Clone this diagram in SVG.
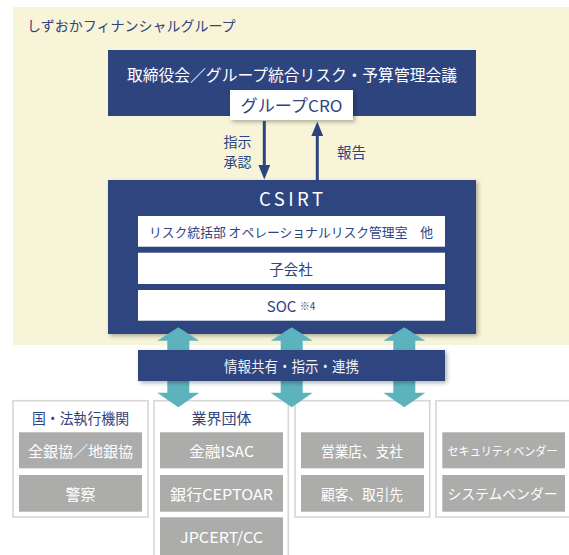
<svg xmlns="http://www.w3.org/2000/svg" width="569" height="555" viewBox="0 0 569 555">
<defs>
<style>
.jp{font-family:"Noto Sans CJK JP","Noto Sans",sans-serif;}
.navy{fill:#2e447f;}
.wt{fill:#ffffff;}
.nt{fill:#2e447f;}
.gray{fill:#acacab;}
.frame{fill:#ffffff;stroke:#d6d6d6;stroke-width:1.6;}
.teal{fill:#5cb3be;}
.line{stroke:#2e447f;stroke-width:3;fill:none;}
</style>
<filter id="sh" x="-10%" y="-10%" width="130%" height="140%">
<feDropShadow dx="2" dy="2" stdDeviation="2" flood-color="#000" flood-opacity="0.3"/>
</filter>
</defs>
<rect x="0" y="0" width="569" height="555" fill="#ffffff"/>
<g id="group-bg">
<rect x="13" y="7" width="556" height="338" fill="#f8f4d8"/>
<text class="jp nt" x="27" y="25" font-size="14" dominant-baseline="central">しずおかフィナンシャルグループ</text>
</g>
<g id="board">
<rect class="navy" x="108" y="50" width="368" height="66"/>
<text class="jp wt" x="292" y="73.5" font-size="16" text-anchor="middle" dominant-baseline="central" textLength="330" lengthAdjust="spacingAndGlyphs">取締役会／グループ統合リスク・予算管理会議</text>
</g>
<g id="cro">
<rect x="230" y="90" width="123" height="30" fill="#ffffff" filter="url(#sh)"/>
<text class="jp nt" x="291.5" y="104.5" font-size="16.5" text-anchor="middle" dominant-baseline="central" textLength="102" lengthAdjust="spacingAndGlyphs">グループCRO</text>
</g>
<g id="connectors">
<line class="line" x1="264.3" y1="121" x2="264.3" y2="167"/>
<polygon class="navy" points="258.4,165 270.2,165 264.3,179.5"/>
<line class="line" x1="317.3" y1="180" x2="317.3" y2="134"/>
<polygon class="navy" points="311.4,136 323.2,136 317.3,121.5"/>
<text class="jp nt" x="237.5" y="141" font-size="14" text-anchor="middle" dominant-baseline="central">指示</text>
<text class="jp nt" x="237.5" y="160.5" font-size="14" text-anchor="middle" dominant-baseline="central">承認</text>
<text class="jp nt" x="351.5" y="151.5" font-size="14.5" text-anchor="middle" dominant-baseline="central">報告</text>
</g>
<g id="csirt">
<rect class="navy" x="108" y="180" width="368" height="154" filter="url(#sh)"/>
<text class="jp wt" x="291" y="198.3" font-size="18.5" text-anchor="middle" dominant-baseline="central" textLength="64" lengthAdjust="spacing">CSIRT</text>
</g>
<g id="csirt-risk">
<rect class="wt" x="138" y="216" width="307" height="30.7"/>
<text class="jp nt" x="291" y="231.3" font-size="13" text-anchor="middle" dominant-baseline="central" textLength="284" lengthAdjust="spacingAndGlyphs">リスク統括部 オペレーショナルリスク管理室　他</text>
</g>
<g id="csirt-sub">
<rect class="wt" x="138" y="252.7" width="307" height="31.3"/>
<text class="jp nt" x="291" y="268.3" font-size="14.5" text-anchor="middle" dominant-baseline="central">子会社</text>
</g>
<g id="csirt-soc">
<rect class="wt" x="138" y="290" width="307" height="30.7"/>
<text class="jp nt" x="291" y="305.3" font-size="15" text-anchor="middle" dominant-baseline="central">SOC <tspan font-size="10">※4</tspan></text>
</g>
<g id="box-gov">
<rect class="frame" x="13" y="400.7" width="135" height="116.3"/>
<text class="jp nt" x="80.5" y="417.7" font-size="15" text-anchor="middle" dominant-baseline="central" textLength="97" lengthAdjust="spacingAndGlyphs">国・法執行機関</text>
<rect class="gray" x="19" y="432.3" width="123" height="36"/>
<text class="jp wt" x="80.5" y="450.3" font-size="15" text-anchor="middle" dominant-baseline="central" textLength="105" lengthAdjust="spacingAndGlyphs">全銀協／地銀協</text>
<rect class="gray" x="19" y="475" width="123" height="36.7"/>
<text class="jp wt" x="80.5" y="493.3" font-size="15" text-anchor="middle" dominant-baseline="central">警察</text>
</g>
<g id="box-industry">
<rect class="frame" x="154" y="400.7" width="134.3" height="170"/>
<text class="jp nt" x="221.5" y="417.7" font-size="15" text-anchor="middle" dominant-baseline="central">業界団体</text>
<rect class="gray" x="160" y="432.3" width="123" height="36"/>
<text class="jp wt" x="221.5" y="450.3" font-size="15" text-anchor="middle" dominant-baseline="central" textLength="65" lengthAdjust="spacingAndGlyphs">金融ISAC</text>
<rect class="gray" x="160" y="475" width="123" height="36.7"/>
<text class="jp wt" x="221.5" y="493.3" font-size="15" text-anchor="middle" dominant-baseline="central" textLength="103" lengthAdjust="spacingAndGlyphs">銀行CEPTOAR</text>
<rect class="gray" x="160" y="517.3" width="123" height="45"/>
<text class="jp wt" x="221.5" y="536.7" font-size="15" text-anchor="middle" dominant-baseline="central" textLength="83" lengthAdjust="spacingAndGlyphs">JPCERT/CC</text>
</g>
<g id="box-customers">
<rect class="frame" x="295" y="400.7" width="134.7" height="116.3"/>
<rect class="gray" x="301" y="432.3" width="123" height="36"/>
<text class="jp wt" x="362" y="450.3" font-size="15" text-anchor="middle" dominant-baseline="central" textLength="82" lengthAdjust="spacingAndGlyphs">営業店、支社</text>
<rect class="gray" x="301" y="475" width="123" height="36.7"/>
<text class="jp wt" x="362" y="493.3" font-size="15" text-anchor="middle" dominant-baseline="central" textLength="82" lengthAdjust="spacingAndGlyphs">顧客、取引先</text>
</g>
<g id="box-vendors">
<rect class="frame" x="436" y="400.7" width="140" height="116.3"/>
<rect class="gray" x="442.3" y="432.3" width="122.7" height="36"/>
<text class="jp wt" x="502.5" y="450.3" font-size="12" text-anchor="middle" dominant-baseline="central" textLength="110" lengthAdjust="spacingAndGlyphs">セキュリティベンダー</text>
<rect class="gray" x="442.3" y="475" width="122.7" height="36.7"/>
<text class="jp wt" x="502.5" y="493.3" font-size="14" text-anchor="middle" dominant-baseline="central" textLength="110" lengthAdjust="spacingAndGlyphs">システムベンダー</text>
</g>
<g id="share-arrows">
<polygon class="teal" points="178.3,327.3 199.3,340.7 189.3,340.7 189.3,392.7 199.3,392.7 178.3,407.3 157.3,392.7 167.3,392.7 167.3,340.7 157.3,340.7"/>
<polygon class="teal" points="291.7,327.3 312.7,340.7 302.7,340.7 302.7,392.7 312.7,392.7 291.7,407.3 270.7,392.7 280.7,392.7 280.7,340.7 270.7,340.7"/>
<polygon class="teal" points="404.3,327.3 425.3,340.7 415.3,340.7 415.3,392.7 425.3,392.7 404.3,407.3 383.3,392.7 393.3,392.7 393.3,340.7 383.3,340.7"/>
</g>
<g id="share-band">
<rect class="navy" x="138" y="350" width="307" height="31" filter="url(#sh)"/>
<text class="jp" fill="#eef0f6" x="291.5" y="365.7" font-size="15" text-anchor="middle" dominant-baseline="central" textLength="135" lengthAdjust="spacingAndGlyphs">情報共有・指示・連携</text>
</g>
</svg>
